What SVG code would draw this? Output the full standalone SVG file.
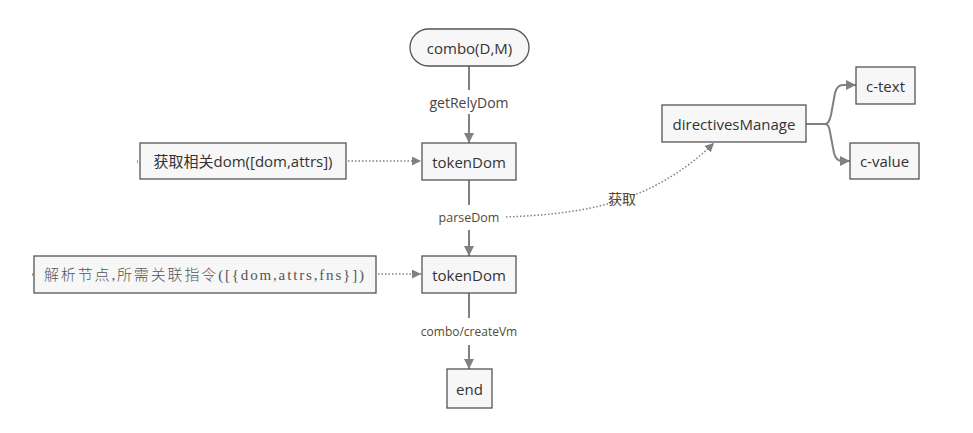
<svg xmlns="http://www.w3.org/2000/svg" width="973" height="433" viewBox="0 0 973 433">
<defs>
<style>
.box{fill:#f7f7f7;stroke:#555;stroke-width:1.3}
.t{font-family:"Open Sans","Noto Sans CJK SC",sans-serif;font-size:15px;fill:#333;text-anchor:middle;dominant-baseline:central}
.lbl{font-family:"Open Sans","Noto Sans CJK SC",sans-serif;font-size:12.5px;fill:#574a2e;text-anchor:middle;dominant-baseline:central}
.ln{fill:none;stroke:#808080;stroke-width:2}
.dot{fill:none;stroke:#808080;stroke-width:1.5;stroke-dasharray:1.5 2}
</style>
<marker id="ah" viewBox="0 0 10 10" refX="10" refY="5" markerWidth="10" markerHeight="10" markerUnits="userSpaceOnUse" orient="auto">
<path d="M0,0L10,5L0,10z" fill="#808080"/>
</marker>
<marker id="ahs" viewBox="0 0 10 10" refX="10" refY="5" markerWidth="9" markerHeight="9" markerUnits="userSpaceOnUse" orient="auto">
<path d="M0,0L10,5L0,10z" fill="#808080"/>
</marker>
</defs>
<rect width="973" height="433" fill="#ffffff"/>
<g id="connectors">
<path class="ln" d="M469,66V90"/>
<path class="ln" d="M469,114V143" marker-end="url(#ah)"/>
<path class="ln" d="M469,180V205"/>
<path class="ln" d="M469,230V256" marker-end="url(#ah)"/>
<path class="ln" d="M469,293V318"/>
<path class="ln" d="M469,345V369" marker-end="url(#ah)"/>
<path class="dot" d="M348,161H421" marker-end="url(#ahs)"/>
<path class="dot" d="M378,274H421" marker-end="url(#ahs)"/>
<path class="dot" d="M506,217C580,214 650,205 714,143" marker-end="url(#ahs)"/>
<path class="ln" d="M806,124H825Q829,124 831,115L835,93Q837,85 843,85H856" marker-end="url(#ah)"/>
<path class="ln" d="M825,124Q829,124 830,132L834,153Q836,161 842,161H850" marker-end="url(#ah)"/>
<path d="M137.5,160V163M32.5,273V276" stroke="#888" stroke-width="0.8"/>
</g>
<g id="n-combo">
<rect class="box" x="410" y="29" width="119" height="37" rx="18.5"/>
<text class="t" x="469.5" y="47.5">combo(D,M)</text>
</g>
<g id="l-getRelyDom"><text class="t" x="469" y="102" style="font-size:14px;fill:#444">getRelyDom</text></g>
<g id="n-token1">
<rect class="box" x="422" y="143" width="94" height="37"/>
<text class="t" x="469" y="161.5">tokenDom</text>
</g>
<g id="n-get">
<rect class="box" x="140" y="143" width="206" height="36"/>
<text class="t" x="243" y="161">获取相关dom([dom,attrs])</text>
</g>
<g id="l-parseDom"><text class="lbl" x="469" y="217">parseDom</text></g>
<g id="l-get"><text class="lbl" x="622" y="198" style="font-size:14px">获取</text></g>
<g id="n-token2">
<rect class="box" x="422" y="256" width="94" height="37"/>
<text class="t" x="469" y="274.5">tokenDom</text>
</g>
<g id="n-parse">
<rect class="box" x="34" y="256" width="342" height="37"/>
<text class="t" x="204" y="274.5" style="font-family:'Liberation Serif','Noto Sans CJK SC',serif;font-weight:300;fill:#555" textLength="320" lengthAdjust="spacing">解析节点,所需关联指令([{dom,attrs,fns}])</text>
</g>
<g id="l-combo"><text class="lbl" x="469" y="331" style="font-size:12px">combo/createVm</text></g>
<g id="n-end">
<rect class="box" x="447" y="369" width="45" height="39"/>
<text class="t" x="469.5" y="388.5">end</text>
</g>
<g id="n-dm">
<rect class="box" x="662" y="105" width="144" height="37"/>
<text class="t" x="734" y="123.5">directivesManage</text>
</g>
<g id="n-ctext">
<rect class="box" x="856" y="67" width="59" height="37"/>
<text class="t" x="885.5" y="85.5">c-text</text>
</g>
<g id="n-cvalue">
<rect class="box" x="850" y="143" width="69" height="36"/>
<text class="t" x="884.5" y="161">c-value</text>
</g>
</svg>
